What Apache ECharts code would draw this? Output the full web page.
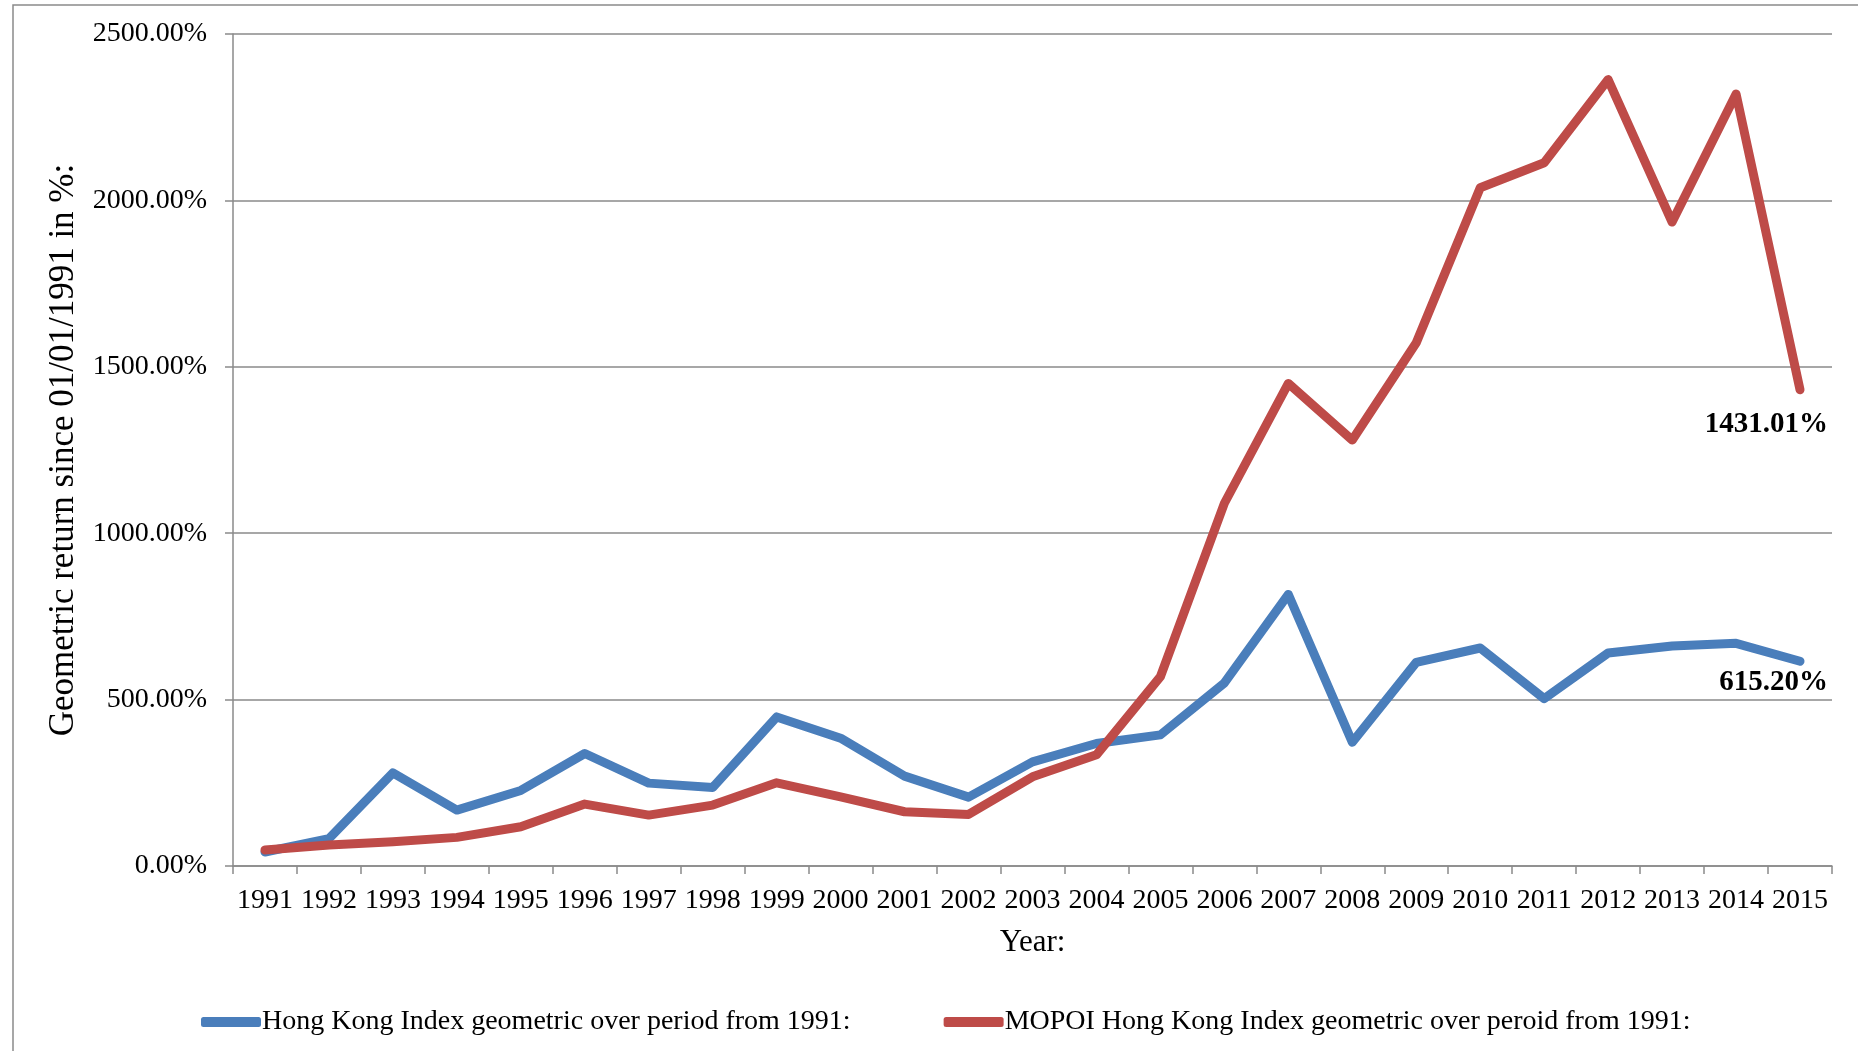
<!DOCTYPE html>
<html>
<head>
<meta charset="utf-8">
<title>Hong Kong Index vs MOPOI Hong Kong Index</title>
<script src="https://cdn.jsdelivr.net/npm/echarts@6/dist/echarts.min.js"></script>
<style>
  html, body { margin: 0; padding: 0; background: #ffffff; }
  #chart { width: 1858px; height: 1051px; }
</style>
</head>
<body>
<div id="chart"></div>
<script>
// Years on the category axis
const years = ['1991','1992','1993','1994','1995','1996','1997','1998','1999','2000',
               '2001','2002','2003','2004','2005','2006','2007','2008','2009','2010',
               '2011','2012','2013','2014','2015'];

// Cumulative geometric return since 01/01/1991, in percent
const hongKongIndex = [42, 82, 280, 168, 227, 338, 249, 236, 448, 384,
                       270, 207, 313, 368, 394, 550, 816, 372, 612, 655,
                       503, 640, 661, 669, 615.20];
const mopoiIndex = [48, 63, 73, 86, 118, 186, 153, 183, 250, 208,
                    163, 155, 268, 334, 569, 1090, 1450, 1280, 1572, 2038,
                    2113, 2363, 1935, 2320, 1431.01];

// Value-axis ticks
const yTicks = [0, 500, 1000, 1500, 2000, 2500];

const seriesNames = [
  'Hong Kong Index geometric over period from 1991:',
  'MOPOI Hong Kong Index geometric over peroid from 1991:'
];

const FONT = "'Liberation Serif', 'Times New Roman', serif";
const BLUE = '#4A7EBB';
const RED = '#BE4B48';
const GREY = '#8a8a8a';

const pct = v => Number(v).toFixed(2) + '%';

// Only the final year carries a value label
function withEndLabel(values, dy) {
  return values.map((v, i) => i === values.length - 1 ? {
    value: v,
    label: {
      show: true,
      position: 'bottom',
      distance: 0,
      align: 'right',
      verticalAlign: 'middle',
      offset: [28, dy],
      formatter: p => pct(p.value),
      fontFamily: FONT,
      fontSize: 29,
      fontWeight: 'bold',
      color: '#000'
    }
  } : v);
}

const chart = echarts.init(document.getElementById('chart'), null, { renderer: 'canvas' });

chart.setOption({
  backgroundColor: '#ffffff',
  animation: false,
  textStyle: { fontFamily: FONT },
  graphic: [{
    type: 'rect',
    z: -1,
    shape: { x: 13, y: 5, width: 1900, height: 1100 },
    style: { fill: 'none', stroke: GREY, lineWidth: 1.5 }
  }],
  grid: { left: 233, right: 26, top: 34, bottom: 185, containLabel: false },
  legend: {
    left: 196,
    top: 1003,
    itemWidth: 60,
    itemHeight: 10,
    itemGap: 93,
    icon: 'roundRect',
    textStyle: { fontFamily: FONT, fontSize: 28, color: '#000', padding: [0, 0, 0, -4] },
    data: seriesNames
  },
  xAxis: {
    type: 'category',
    data: years,
    boundaryGap: true,
    name: 'Year:',
    nameLocation: 'middle',
    nameGap: 61,
    nameTextStyle: { fontFamily: FONT, fontSize: 31, color: '#000' },
    axisLine: { show: true, lineStyle: { color: GREY, width: 1.5 } },
    axisTick: { show: true, length: 8, alignWithLabel: false, lineStyle: { color: GREY, width: 1.5 } },
    axisLabel: { fontFamily: FONT, fontSize: 28, color: '#000', margin: 21, interval: 0 },
    splitLine: { show: false }
  },
  yAxis: {
    type: 'value',
    min: yTicks[0],
    max: yTicks[yTicks.length - 1],
    interval: yTicks[1] - yTicks[0],
    name: 'Geometric return since 01/01/1991 in %:',
    nameLocation: 'middle',
    nameGap: 144,
    nameTextStyle: { fontFamily: FONT, fontSize: 35, color: '#000' },
    axisLine: { show: true, lineStyle: { color: GREY, width: 1.5 } },
    axisTick: { show: true, length: 8, lineStyle: { color: GREY, width: 1.5 } },
    axisLabel: { fontFamily: FONT, fontSize: 28, color: '#000', margin: 26, formatter: pct },
    splitLine: { show: true, lineStyle: { color: GREY, width: 1.5 } }
  },
  series: [
    {
      name: seriesNames[0],
      type: 'line',
      data: withEndLabel(hongKongIndex, 21),
      symbol: 'circle',
      symbolSize: 1,
      showSymbol: true,
      color: BLUE,
      itemStyle: { color: BLUE },
      lineStyle: { color: BLUE, width: 9, cap: 'round', join: 'round' },
      z: 2
    },
    {
      name: seriesNames[1],
      type: 'line',
      data: withEndLabel(mopoiIndex, 34),
      symbol: 'circle',
      symbolSize: 1,
      showSymbol: true,
      color: RED,
      itemStyle: { color: RED },
      lineStyle: { color: RED, width: 9, cap: 'round', join: 'round' },
      z: 3
    }
  ]
});
</script>
</body>
</html>
